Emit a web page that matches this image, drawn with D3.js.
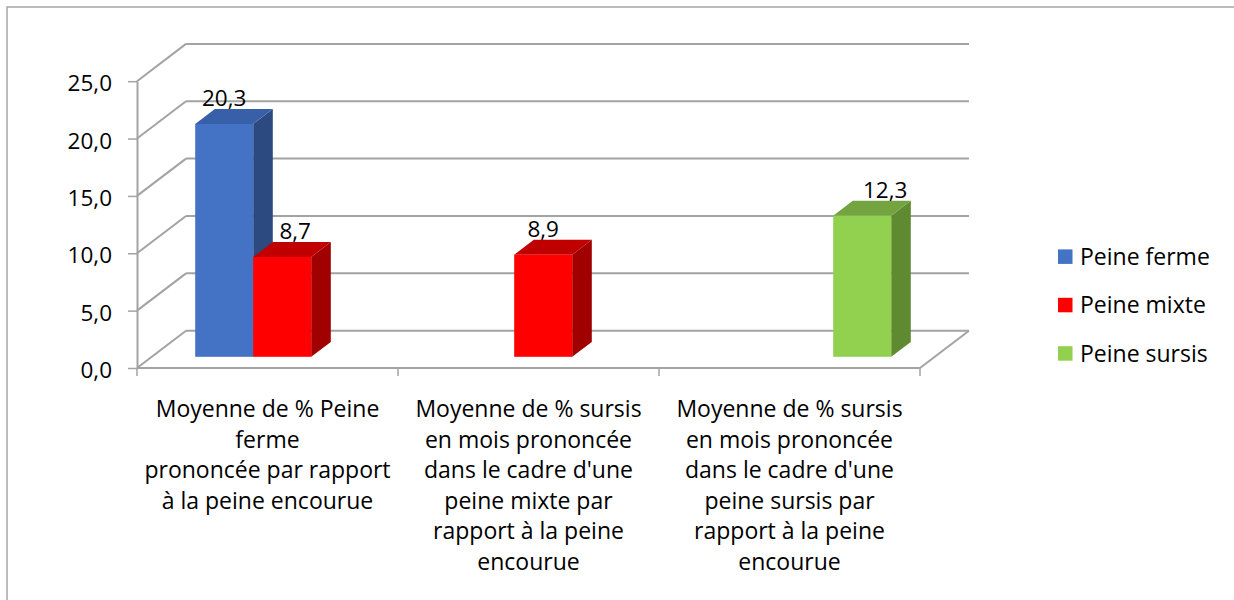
<!DOCTYPE html>
<html>
<head>
<meta charset="utf-8">
<script src="https://cdn.jsdelivr.net/npm/d3@7"></script>
<style>
  html, body { margin: 0; padding: 0; background: #fff; }
  svg { display: block; font-family: "Open Sans", "Noto Sans", sans-serif; }
</style>
</head>
<body>
<svg id="chart" width="1234" height="600"></svg>
<script>
// Category labels (line breaks as shown under each group)
const categories = [
  "Moyenne de % Peine\nferme\nprononcée par rapport\nà la peine encourue",
  "Moyenne de % sursis\nen mois prononcée\ndans le cadre d'une\npeine mixte par\nrapport à la peine\nencourue",
  "Moyenne de % sursis\nen mois prononcée\ndans le cadre d'une\npeine sursis par\nrapport à la peine\nencourue"
];
const seriesNames = ["Peine ferme", "Peine mixte", "Peine sursis"];
// One value per category for each series (null = no bar)
const peineFerme  = [20.3, null, null];
const peineMixte  = [8.7, 8.9, null];
const peineSursis = [null, null, 12.3];
const yTicks = [0, 5, 10, 15, 20, 25];

const seriesValues = [peineFerme, peineMixte, peineSursis];
const faceColors = {
  "Peine ferme":  { front: "#4472C4", top: "#3760A8", side: "#2C4A80" },
  "Peine mixte":  { front: "#FF0000", top: "#C00000", side: "#A00000" },
  "Peine sursis": { front: "#92D050", top: "#73A440", side: "#5E8A32" }
};

const svg = d3.select("#chart");
const fmt = d3.formatLocale({ decimal: ",", thousands: " ", grouping: [3], currency: ["", " €"] }).format(".1f");

// Front plane of the 3D box
const left = 137, right = 920, base = 368;
// Full depth offset of the box (front -> back wall)
const depthX = 49, depthY = -37.3;
// Bars occupy the middle of the depth
const barD0 = 0.3, barD1 = 0.7;

const y = d3.scaleLinear().domain([0, 25]).range([base, base - 286.8]);
const x0 = d3.scaleBand().domain(d3.range(categories.length)).range([left, right]).padding(0);
const x1 = d3.scaleBand().domain(seriesNames).range([0, x0.bandwidth()]).paddingInner(0).paddingOuter(0.75);

const gray = "#A3A3A3";

// Chart frame
svg.append("rect").attr("x", 7).attr("y", 7).attr("width", 1300).attr("height", 700)
  .attr("fill", "none").attr("stroke", "#A6A6A6").attr("stroke-width", 1.5);

// Back wall gridlines and left wall diagonals
const grid = svg.append("g").attr("stroke", gray).attr("stroke-width", 2).attr("fill", "none");
yTicks.forEach(t => {
  grid.append("line")
    .attr("x1", left + depthX).attr("y1", y(t) + depthY)
    .attr("x2", right + depthX).attr("y2", y(t) + depthY);
  grid.append("line")
    .attr("x1", left).attr("y1", y(t))
    .attr("x2", left + depthX).attr("y2", y(t) + depthY);
});
// Floor front and right edges
grid.append("line").attr("x1", left).attr("y1", base).attr("x2", right).attr("y2", base);
grid.append("line").attr("x1", right).attr("y1", base).attr("x2", right + depthX).attr("y2", base + depthY);

// Value axis
const yAxis = d3.axisLeft(y).tickValues(yTicks).tickFormat(fmt).tickSize(9).tickSizeOuter(0).tickPadding(16);
const gy = svg.append("g").attr("transform", `translate(${left},0)`).call(yAxis);
gy.select(".domain").attr("stroke", gray).attr("stroke-width", 2);
gy.selectAll(".tick line").attr("stroke", gray).attr("stroke-width", 1.5);
gy.selectAll(".tick text").attr("font-size", 22.5).attr("fill", "#000")
  .attr("font-family", "'Open Sans', sans-serif").attr("dy", "0.42em");

// Category axis ticks at group boundaries
const boundaries = d3.range(categories.length + 1).map(i => i < categories.length ? x0(i) : x0(i - 1) + x0.bandwidth());
svg.append("g").selectAll("line").data(boundaries).join("line")
  .attr("x1", d => d).attr("x2", d => d).attr("y1", base).attr("y2", base + 8)
  .attr("stroke", gray).attr("stroke-width", 1.5);

// Category labels
const catG = svg.append("g").attr("font-size", 23).attr("text-anchor", "middle").attr("fill", "#000");
categories.forEach((c, i) => {
  const t = catG.append("text").attr("x", x0(i) + x0.bandwidth() / 2).attr("y", 417);
  c.split("\n").forEach((line, k) => {
    t.append("tspan").attr("x", x0(i) + x0.bandwidth() / 2).attr("dy", k === 0 ? 0 : 30.6).text(line);
  });
});

// Bars
const bars = [];
categories.forEach((c, i) => {
  seriesNames.forEach((s, j) => {
    const v = seriesValues[j][i];
    if (v != null) bars.push({ cat: i, series: s, value: v });
  });
});
bars.sort((a, b) => (x0(a.cat) + x1(a.series)) - (x0(b.cat) + x1(b.series)));

// Label nudges along x for readability
const labelNudge = { "0|Peine mixte": 13, "2|Peine sursis": 23 };

const barG = svg.append("g");
bars.forEach(b => {
  const col = faceColors[b.series];
  const fx = x0(b.cat) + x1(b.series) + barD0 * depthX;
  const w = x1.bandwidth();
  const fyb = y(0) + barD0 * depthY;
  const fyt = y(b.value) + barD0 * depthY;
  const ddx = (barD1 - barD0) * depthX, ddy = (barD1 - barD0) * depthY;
  // side face
  barG.append("path").attr("fill", col.side)
    .attr("d", `M${fx + w},${fyt}L${fx + w + ddx},${fyt + ddy}L${fx + w + ddx},${fyb + ddy}L${fx + w},${fyb}Z`);
  // top face
  barG.append("path").attr("fill", col.top)
    .attr("d", `M${fx},${fyt}L${fx + ddx},${fyt + ddy}L${fx + w + ddx},${fyt + ddy}L${fx + w},${fyt}Z`);
  // front face
  barG.append("rect").attr("fill", col.front)
    .attr("x", fx).attr("y", fyt).attr("width", w).attr("height", fyb - fyt);
  // value label
  barG.append("text")
    .attr("x", fx + w / 2 + (labelNudge[b.cat + "|" + b.series] || 0))
    .attr("y", fyt + ddy - 3)
    .attr("text-anchor", "middle").attr("font-size", 22.5).attr("fill", "#000")
    .text(fmt(b.value));
});

// Legend
const legend = svg.append("g").attr("transform", "translate(1058,256.7)");
seriesNames.forEach((s, i) => {
  const g = legend.append("g").attr("transform", `translate(0,${i * 48.4})`);
  g.append("rect").attr("x", 0).attr("y", -7.3).attr("width", 14.5).attr("height", 14.5).attr("fill", faceColors[s].front);
  g.append("text").attr("x", 22).attr("y", 0).attr("dy", "0.36em").attr("font-size", 23).attr("fill", "#000").text(s);
});
</script>
</body>
</html>
